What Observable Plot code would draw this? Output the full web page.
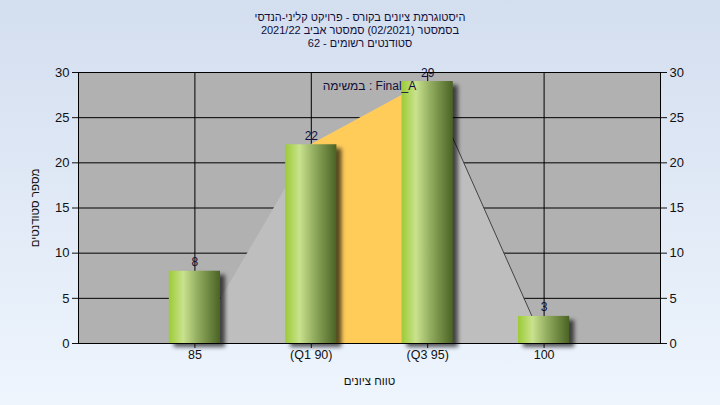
<!DOCTYPE html>
<html><head><meta charset="utf-8">
<script src="https://cdn.jsdelivr.net/npm/d3@7"></script>
<script src="https://cdn.jsdelivr.net/npm/@observablehq/plot@0.6"></script>
<style>
html,body{margin:0;padding:0;}
body{width:720px;height:405px;overflow:hidden;background:linear-gradient(#d3deef,#eef5fd);font-family:"Liberation Sans",Arial,sans-serif;}
#wrap{position:relative;width:720px;height:405px;}
#chart svg{position:absolute;left:0;top:0;}
#title{position:absolute;left:0;top:11px;width:720px;text-align:center;font-size:11px;line-height:13px;color:#10103a;direction:rtl;}
</style></head><body>
<div id="wrap"><div id="chart"></div><div id="title"></div></div>
<script>
// ---- data ----
const titleLines = [
  "היסטוגרמת ציונים בקורס - פרויקט קליני-הנדסי",
  "בסמסטר  (02/2021)  סמסטר אביב 2021/22",
  "סטודנטים רשומים - 62"
];
const scores = [85, 90, 95, 100];
const tickLabels = ["85", "(Q1 90)", "(Q3 95)", "100"];
const counts = [8, 22, 29, 3];
const outlineScores = [85, 90, 95, 100];
const outlineCounts = [0, 22, 29, 0];
const iqrScores = [90, 95];
const iqrCounts = [22, 29];
const whiskerScores = [95, 100];
const whiskerCounts = [29, 0];
const taskLabel = "במשימה : Final_A";
const yLabel = "מספר סטודנטים";
const xLabel = "טווח ציונים";
const yTicks = [0, 5, 10, 15, 20, 25, 30];

document.getElementById("title").innerHTML = titleLines.map(t => `<div>${t}</div>`).join("");

const bars = scores.map((s, i) => ({score: s, count: counts[i]}));
const outline = outlineScores.map((s, i) => ({score: s, count: outlineCounts[i]}));
const iqr = iqrScores.map((s, i) => ({score: s, count: iqrCounts[i]}));
const whisker = whiskerScores.map((s, i) => ({score: s, count: whiskerCounts[i]}));
const halfWidth = 1.1;

const chart = Plot.plot({
  width: 720, height: 405,
  marginTop: 72, marginBottom: 62, marginLeft: 78, marginRight: 60,
  x: {type: "linear", domain: [80, 105]},
  y: {domain: [0, 30]},
  style: {background: "transparent", fontFamily: "Liberation Sans, Arial, sans-serif", fontSize: "12px", color: "#111"},
  marks: [
    Plot.frame({fill: "#b1b1b1"}),
    Plot.gridY(yTicks, {stroke: "black", strokeOpacity: 1}),
    Plot.gridX(scores, {stroke: "black", strokeOpacity: 1}),
    Plot.areaY(outline, {x: "score", y: "count", fill: "#bebebe"}),
    Plot.areaY(iqr, {x: "score", y: "count", fill: "#ffcc5a"}),
    Plot.line(whisker, {x: "score", y: "count", stroke: "#444", strokeWidth: 1}),
    Plot.rect(bars, {x1: d => d.score - halfWidth, x2: d => d.score + halfWidth, y1: 0, y2: "count", fill: "#000", fillOpacity: 0.65, dx: 5, dy: 4}),
    Plot.rect(bars, {x1: d => d.score - halfWidth, x2: d => d.score + halfWidth, y1: 0, y2: "count", fill: "url(#barGrad)"}),
    Plot.text(bars, {x: "score", y: "count", text: d => String(d.count), lineAnchor: "bottom", dy: -5, fill: "#10103a", fontSize: 12}),
    Plot.text([taskLabel], {frameAnchor: "top", dy: 14, lineAnchor: "middle", fill: "#10103a", fontSize: 12}),
    Plot.frame({stroke: "black"}),
    Plot.axisY(yTicks, {anchor: "left", tickSize: 6, tickPadding: 3, fontSize: 13, label: null}),
    Plot.axisY(yTicks, {anchor: "left", tickSize: 0, tick: false, text: null, fontSize: 11.5, label: yLabel, labelAnchor: "center", labelArrow: "none", labelOffset: 48}),
    Plot.axisY(yTicks, {anchor: "right", tickSize: 6, tickPadding: 3, fontSize: 13, label: null}),
    Plot.axisX(scores, {anchor: "bottom", tickSize: 5, tickPadding: 2, fontSize: 12.5, tickFormat: d => tickLabels[scores.indexOf(d)], label: null}),
    Plot.axisX(scores, {anchor: "bottom", tickSize: 0, text: null, fontSize: 11.5, label: xLabel, labelAnchor: "center", labelArrow: "none", labelOffset: 41})
  ]
});

const svg = d3.select(chart);
const defs = svg.insert("defs", ":first-child");
defs.html(`
<linearGradient id="barGrad" x1="0" x2="1" y1="0" y2="0">
  <stop offset="0" stop-color="#9ccb35"/>
  <stop offset="0.28" stop-color="#c9e28e"/>
  <stop offset="0.6" stop-color="#8ca65a"/>
  <stop offset="1" stop-color="#4a6325"/>
</linearGradient>
<filter id="shadowBlur" x="-20%" y="-20%" width="140%" height="140%">
  <feGaussianBlur stdDeviation="2"/>
</filter>`);
const rects = chart.querySelectorAll('g[aria-label="rect"]');
if (rects.length) rects[0].setAttribute("filter", "url(#shadowBlur)");
document.getElementById("chart").appendChild(chart);
</script>
</body></html>
